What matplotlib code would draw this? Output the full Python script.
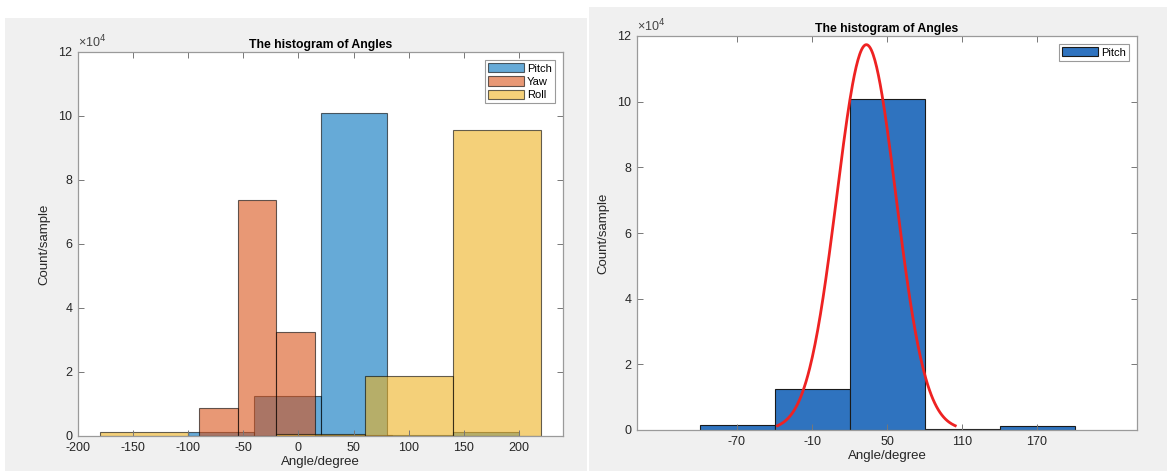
import numpy as np
import matplotlib.pyplot as plt
from matplotlib.patches import Rectangle
from matplotlib.ticker import FuncFormatter

plt.rcParams['font.family'] = ['Liberation Sans', 'DejaVu Sans']
plt.rcParams['axes.unicode_minus'] = False

# histogram bins (counts per bin)
pitch_edges = [-100, -40, 20, 80, 140, 200]
pitch_counts = [1400, 12500, 100800, 200, 1300]
yaw_edges = [-90, -55, -20, 15, 50, 85]
yaw_counts = [8850, 73800, 32600, 400, 300]
roll_edges = [-180, -100, -20, 60, 140, 220]
roll_counts = [1200, 0, 600, 18600, 95600]

# normal fit of pitch (histfit)
fit_mu = 33.5
fit_sigma = 23.7

left_xticks = [-200, -150, -100, -50, 0, 50, 100, 150, 200]
right_xticks = [-70, -10, 50, 110, 170]
yticks = [0, 20000, 40000, 60000, 80000, 100000, 120000]

blue = '#0072bd'
orange = '#d95319'
yellow = '#edb120'
W, H = 1167, 471


def draw_hist(ax, edges, counts, color, label, alpha=0.6):
    ax.bar(edges[:-1], counts, width=np.diff(edges), align='edge',
           color=color, alpha=alpha, edgecolor='black', linewidth=0.8,
           label=label)


def matlab_style(ax, xlim, xticks):
    ax.set_xlim(xlim)
    ax.set_ylim(0, 120000)
    ax.set_xticks(xticks)
    ax.set_yticks(yticks)
    ax.yaxis.set_major_formatter(FuncFormatter(lambda v, p: '%g' % (v / 1e4)))
    ax.tick_params(direction='in', top=True, right=True, length=4, width=0.7,
                   labelsize=9, labelcolor='#262626', color='#777777', pad=4)
    for s in ax.spines.values():
        s.set_color('#9a9a9a')
        s.set_linewidth(0.9)
    ax.text(0, 1.004, '×10$^4$', transform=ax.transAxes, fontsize=9,
            color='#444444', ha='left', va='bottom')
    ax.set_title('The histogram of Angles', fontsize=8.8, fontweight='bold', pad=3)
    ax.set_xlabel('Angle/degree', fontsize=9.5, color='#262626', labelpad=2)
    ax.set_ylabel('Count/sample', fontsize=9.5, color='#262626', labelpad=6)
    leg = ax.legend(loc='upper right', fontsize=8, handlelength=3.2,
                    handleheight=0.9, labelspacing=0.25, borderpad=0.3,
                    handletextpad=0.3, borderaxespad=0.7, fancybox=False,
                    framealpha=1)
    leg.get_frame().set_edgecolor('#9a9a9a')
    leg.get_frame().set_linewidth(0.8)


fig = plt.figure(figsize=(W / 100, H / 100), dpi=100)
fig.patch.set_facecolor('white')
fig.add_artist(Rectangle((5 / W, 0), 582 / W, 453 / H, transform=fig.transFigure,
                         facecolor='#f0f0f0', edgecolor='none', zorder=-10))
fig.add_artist(Rectangle((589 / W, 0), 578 / W, 464 / H, transform=fig.transFigure,
                         facecolor='#f0f0f0', edgecolor='none', zorder=-10))

# left: three overlapping histograms
ax1 = fig.add_axes([78 / W, 1 - 436 / H, 485 / W, 384 / H])
draw_hist(ax1, pitch_edges, pitch_counts, blue, 'Pitch')
draw_hist(ax1, yaw_edges, yaw_counts, orange, 'Yaw')
draw_hist(ax1, roll_edges, roll_counts, yellow, 'Roll')
matlab_style(ax1, (-200, 240), left_xticks)

# right: pitch with normal fit
ax2 = fig.add_axes([637 / W, 1 - 430 / H, 500 / W, 394 / H])
ax2.bar(pitch_edges[:-1], pitch_counts, width=np.diff(pitch_edges), align='edge',
        color='#2f73bf', edgecolor='#1a1a1a', linewidth=0.8, label='Pitch')
n = sum(pitch_counts)
bw = pitch_edges[1] - pitch_edges[0]
xs = np.linspace(fit_mu - 3 * fit_sigma, fit_mu + 3 * fit_sigma, 200)
ys = n * bw * np.exp(-0.5 * ((xs - fit_mu) / fit_sigma) ** 2) / (fit_sigma * np.sqrt(2 * np.pi))
ax2.plot(xs, ys, color='#ee2222', linewidth=2)
matlab_style(ax2, (-150, 250), right_xticks)

fig.savefig('out.png', dpi=100)
